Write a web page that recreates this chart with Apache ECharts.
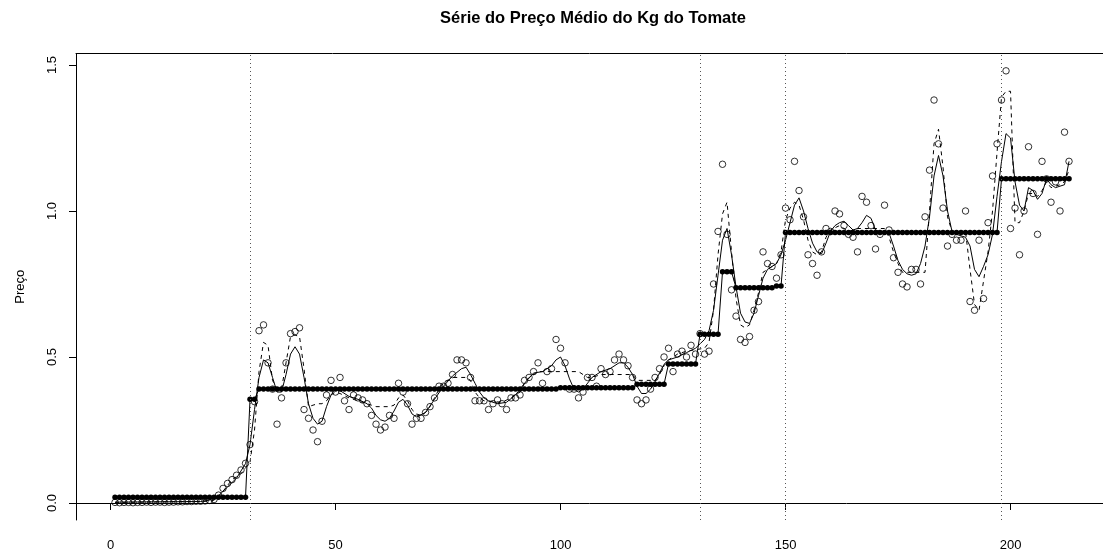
<!DOCTYPE html>
<html>
<head>
<meta charset="utf-8">
<script src="https://cdn.jsdelivr.net/npm/echarts@6/dist/echarts.min.js"></script>
<style>
html,body{margin:0;padding:0;background:#fff;}
#chart{width:1103px;height:556px;}
</style>
</head>
<body>
<div id="chart"></div>
<script>
// Preço médio observado (kg), índices 1..213
const rawPrice = [
  0.002,0.001,0.002,0.002,0.001,0.002,0.002,0.003,0.002,0.003,
  0.003,0.002,0.003,0.003,0.004,0.004,0.005,0.005,0.006,0.006,
  0.007,0.009,0.012,0.027,0.05,0.067,0.08,0.095,0.113,0.136,
  0.20,0.347,0.59,0.61,0.48,0.39,0.27,0.36,0.48,0.58,
  0.587,0.60,0.32,0.29,0.25,0.21,0.28,0.37,0.42,0.38,
  0.43,0.35,0.32,0.37,0.36,0.353,0.34,0.30,0.27,0.25,
  0.26,0.30,0.29,0.41,0.38,0.34,0.27,0.29,0.29,0.31,
  0.33,0.36,0.40,0.40,0.41,0.44,0.49,0.49,0.48,0.43,
  0.35,0.35,0.35,0.32,0.34,0.353,0.34,0.32,0.36,0.36,
  0.37,0.42,0.43,0.45,0.48,0.41,0.45,0.46,0.56,0.53,
  0.48,0.39,0.39,0.36,0.38,0.43,0.43,0.40,0.46,0.44,
  0.45,0.49,0.51,0.49,0.47,0.43,0.353,0.34,0.353,0.39,
  0.43,0.46,0.50,0.53,0.45,0.51,0.52,0.50,0.54,0.51,
  0.58,0.51,0.52,0.75,0.93,1.16,0.92,0.73,0.64,0.56,
  0.55,0.57,0.66,0.69,0.86,0.82,0.81,0.77,0.85,1.01,
  0.97,1.17,1.07,0.98,0.85,0.82,0.78,0.86,0.94,0.93,
  1.00,0.99,0.95,0.92,0.91,0.86,1.05,1.03,0.95,0.87,
  0.92,1.02,0.935,0.84,0.79,0.75,0.74,0.80,0.80,0.75,
  0.98,1.14,1.38,1.23,1.01,0.88,0.92,0.90,0.90,1.00,
  0.69,0.66,0.90,0.70,0.96,1.12,1.23,1.38,1.48,0.94,
  1.01,0.85,1.00,1.22,1.06,0.92,1.17,1.11,1.03,1.10,
  1.00,1.27,1.17
];

// Níveis constantes por trecho
const stepFrom  = [1,    31,    33,   100,   117,   124,   131,   136,   139,   148,   150,   198];
const stepTo    = [30,   32,    99,   116,   123,   130,   135,   138,   147,   149,   197,   213];
const stepLevel = [0.02, 0.355, 0.39, 0.395, 0.407, 0.476, 0.578, 0.792, 0.737, 0.743, 0.926, 1.11];

// Curva suavizada (linha contínua)
const smoothX = [1,20,22,24,26,28,30,31,32,33,34,35,36,37,38,39,40,41,42,43,44,45,46,47,48,49,50,51,53,55,57,58,59,60,61,62,63,64,65,66,67,68,70,72,74,76,78,79,80,81,82,83,84,86,88,90,92,94,96,98,99,100,101,102,103,104,105,107,109,111,113,114,115,116,117,118,119,120,121,122,123,124,126,128,130,131,132,133,134,135,136,137,138,139,140,141,142,143,144,145,146,147,148,149,150,151,152,153,154,155,156,157,158,159,160,161,162,163,164,165,166,167,168,169,170,171,172,173,174,175,176,177,178,179,180,181,182,183,184,185,186,187,188,189,190,191,192,193,194,195,196,197,198,199,200,201,202,203,204,205,206,207,208,209,210,211,212,213];
const smoothY = [0.003,0.005,0.010,0.025,0.055,0.085,0.135,0.20,0.32,0.43,0.49,0.48,0.43,0.38,0.38,0.44,0.51,0.535,0.51,0.43,0.34,0.29,0.27,0.28,0.33,0.37,0.39,0.385,0.365,0.355,0.34,0.325,0.30,0.285,0.28,0.29,0.315,0.345,0.355,0.335,0.305,0.295,0.31,0.355,0.40,0.435,0.46,0.465,0.44,0.41,0.38,0.36,0.35,0.34,0.345,0.37,0.41,0.445,0.45,0.47,0.49,0.50,0.47,0.425,0.39,0.38,0.39,0.43,0.45,0.46,0.48,0.48,0.465,0.44,0.40,0.375,0.375,0.39,0.415,0.445,0.475,0.49,0.50,0.515,0.53,0.545,0.56,0.59,0.66,0.78,0.90,0.94,0.85,0.74,0.65,0.62,0.615,0.65,0.71,0.77,0.80,0.81,0.82,0.85,0.90,0.96,1.02,1.045,1.00,0.94,0.89,0.86,0.853,0.89,0.93,0.95,0.96,0.965,0.95,0.935,0.94,0.96,0.985,0.975,0.935,0.93,0.93,0.925,0.88,0.83,0.80,0.785,0.78,0.785,0.82,0.88,0.98,1.12,1.19,1.12,1.00,0.93,0.92,0.915,0.91,0.88,0.80,0.775,0.81,0.85,0.92,1.05,1.17,1.265,1.25,1.10,1.02,1.00,1.08,1.07,1.04,1.06,1.11,1.09,1.08,1.085,1.09,1.17];

// Mediana móvel (linha tracejada)
const medianX = [1,22,23,24,25,26,27,28,29,30,31,32,33,34,35,36,37,38,39,40,41,42,43,44,45,46,47,48,49,50,51,53,55,57,58,59,62,63,64,65,66,67,68,69,70,71,72,73,74,76,79,80,81,82,83,87,89,91,92,93,95,104,105,106,107,109,116,117,121,122,123,124,126,128,132,133,134,135,136,137,138,139,140,141,142,143,144,145,146,147,148,149,150,151,152,153,154,155,156,157,158,159,160,162,164,166,172,173,174,175,176,181,182,183,184,185,186,187,190,191,192,193,194,195,196,197,198,199,200,201,202,203,204,205,206,207,208,209,210,211,212,213];
const medianY = [0.002,0.006,0.01,0.02,0.04,0.06,0.08,0.09,0.10,0.12,0.14,0.25,0.45,0.55,0.54,0.42,0.39,0.39,0.48,0.57,0.575,0.57,0.46,0.33,0.335,0.34,0.34,0.35,0.37,0.38,0.375,0.36,0.35,0.34,0.335,0.33,0.33,0.335,0.36,0.37,0.35,0.32,0.305,0.30,0.31,0.33,0.36,0.39,0.41,0.43,0.43,0.42,0.38,0.36,0.35,0.345,0.36,0.38,0.41,0.43,0.45,0.45,0.44,0.43,0.43,0.44,0.44,0.42,0.42,0.44,0.47,0.49,0.51,0.52,0.53,0.55,0.66,0.85,0.99,1.03,0.86,0.70,0.61,0.60,0.61,0.66,0.72,0.79,0.80,0.81,0.82,0.86,0.97,1.01,1.03,1.02,0.97,0.90,0.86,0.85,0.86,0.91,0.935,0.95,0.93,0.94,0.94,0.91,0.86,0.82,0.79,0.79,1.00,1.23,1.28,1.15,0.98,0.93,0.93,0.80,0.68,0.66,0.76,0.86,1.00,1.20,1.39,1.41,1.41,0.96,0.96,1.00,1.06,1.06,1.05,1.07,1.10,1.08,1.085,1.09,1.10,1.14];

// Pontos de quebra da série
const breakPoints = [31, 131, 150, 198];

// Marcas dos eixos
const xTicks = [0, 50, 100, 150, 200];
const yTicks = [0, 0.5, 1.0, 1.5];

const FONT = "'Liberation Sans', Arial, Helvetica, sans-serif";

const rawData = rawPrice.map((v, i) => [i + 1, v]);
const stepData = [];
stepFrom.forEach((from, k) => {
  for (let i = from; i <= stepTo[k]; i++) stepData.push([i, stepLevel[k]]);
});
const smoothData = smoothX.map((x, i) => [x, smoothY[i]]);
const medianData = medianX.map((x, i) => [x, medianY[i]]);

const X_MIN = -7.67, X_MAX = 220.55;
const Y_MIN = -0.0582, Y_MAX = 1.539;

const chart = echarts.init(document.getElementById('chart'), null, { renderer: 'canvas' });

chart.setOption({
  animation: false,
  backgroundColor: '#fff',
  textStyle: { fontFamily: FONT },
  graphic: [{
    type: 'text',
    x: 593, y: 18,
    style: {
      text: 'Série do Preço Médio do Kg do Tomate',
      fontFamily: FONT, fontSize: 16.5, fontWeight: 'bold', fill: '#000',
      textAlign: 'center', textVerticalAlign: 'middle'
    }
  }],
  grid: { left: 76, right: 0, top: 53.6, bottom: 36, containLabel: false },
  xAxis: [{
    type: 'value', min: X_MIN, max: X_MAX, position: 'bottom',
    axisLine: { show: true, lineStyle: { color: '#000', width: 1 } },
    axisTick: { show: true, length: 7, customValues: xTicks, lineStyle: { color: '#000' } },
    axisLabel: { show: true, customValues: xTicks, margin: 19, color: '#000', fontSize: 13, fontFamily: FONT },
    splitLine: { show: false }
  }, {
    type: 'value', min: X_MIN, max: X_MAX, position: 'top',
    axisLine: { show: true, onZero: false, lineStyle: { color: '#000', width: 1 } },
    axisTick: { show: false }, axisLabel: { show: false }, splitLine: { show: false }
  }],
  yAxis: {
    type: 'value', min: Y_MIN, max: Y_MAX,
    name: 'Preço', nameLocation: 'middle', nameGap: 49,
    nameTextStyle: { color: '#000', fontSize: 13, fontFamily: FONT },
    axisLine: { show: true, onZero: false, lineStyle: { color: '#000', width: 1 } },
    axisTick: { show: true, length: 7, customValues: yTicks, lineStyle: { color: '#000' } },
    axisLabel: {
      show: true, customValues: yTicks, rotate: 90, margin: 17,
      color: '#000', fontSize: 13, fontFamily: FONT,
      formatter: v => Number(v).toFixed(1)
    },
    splitLine: { show: false }
  },
  series: [{
    name: 'Preço observado',
    type: 'scatter',
    data: rawData,
    symbol: 'circle',
    symbolSize: 6.5,
    itemStyle: { color: 'rgba(0,0,0,0)', borderColor: '#000', borderWidth: 1 },
    silent: true,
    z: 2,
    markLine: {
      silent: true, symbol: 'none', animation: false,
      label: { show: false },
      lineStyle: { type: [1, 3], color: '#555', width: 1 },
      data: breakPoints.map(b => ({ xAxis: b }))
    }
  }, {
    name: 'Suavização',
    type: 'line',
    data: smoothData,
    showSymbol: false,
    lineStyle: { color: '#000', width: 1 },
    silent: true,
    z: 3
  }, {
    name: 'Mediana móvel',
    type: 'line',
    data: medianData,
    showSymbol: false,
    lineStyle: { color: '#000', width: 1, type: [4, 4] },
    silent: true,
    z: 3
  }, {
    name: 'Nível por trecho',
    type: 'line',
    data: stepData,
    symbol: 'circle',
    symbolSize: 5.5,
    showAllSymbol: true,
    itemStyle: { color: '#000' },
    lineStyle: { color: '#000', width: 1 },
    silent: true,
    z: 4
  }]
});
</script>
</body>
</html>
